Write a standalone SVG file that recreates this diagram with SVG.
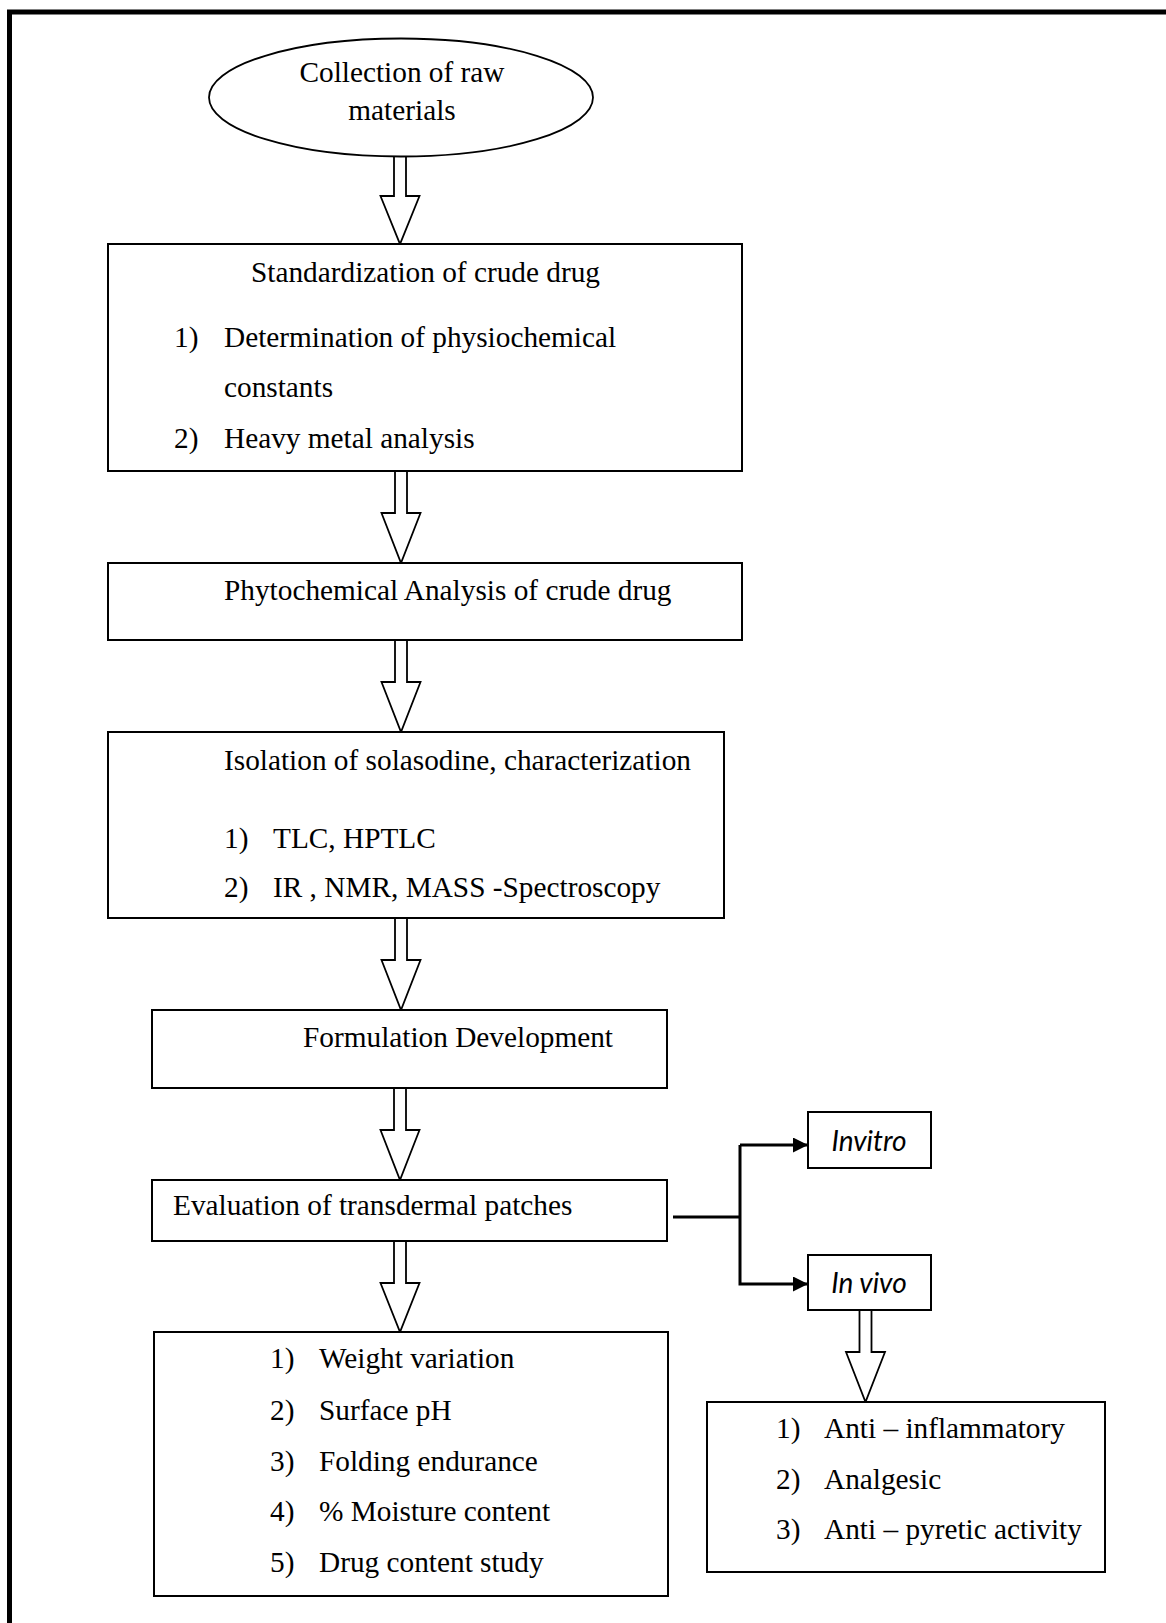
<svg xmlns="http://www.w3.org/2000/svg" width="1166" height="1623" viewBox="0 0 1166 1623">
<style>
.t{font-family:"Liberation Serif","Times New Roman",serif;font-size:29.3px;fill:#000}
.c{font-family:Lato,"Open Sans",sans-serif;font-style:italic;font-size:28px;fill:#000;text-anchor:middle}
.box{fill:#fff;stroke:#000;stroke-width:2}
.blk{fill:#fff;stroke:#000;stroke-width:1.8;stroke-linejoin:miter}
.ln{fill:none;stroke:#000;stroke-width:3}
</style>
<defs>
<marker id="ah" markerUnits="userSpaceOnUse" markerWidth="16" markerHeight="16" refX="15" refY="7.5" orient="auto">
<path d="M0,0 L15,7.5 L0,15 z" fill="#000"/>
</marker>
</defs>
<rect x="0" y="0" width="1166" height="1623" fill="#fff"/>
<path d="M9.5,1623 V12 H1166" fill="none" stroke="#000" stroke-width="5"/>

<g id="connectors">
<polygon class="blk" points="394,156 406,156 406,196 419.5,196 400,244 380.5,196 394,196"/>
<polygon class="blk" points="395,471 407,471 407,513 420.5,513 401,563 381.5,513 395,513"/>
<polygon class="blk" points="395,640 407,640 407,682 420.5,682 401,732 381.5,682 395,682"/>
<polygon class="blk" points="395,918 407,918 407,960 420.5,960 401,1010 381.5,960 395,960"/>
<polygon class="blk" points="394,1088 406,1088 406,1130 419.5,1130 400,1180 380.5,1130 394,1130"/>
<polygon class="blk" points="394,1241 406,1241 406,1283 419.5,1283 400,1332 380.5,1283 394,1283"/>
<polygon class="blk" points="859.5,1310 871.5,1310 871.5,1352 885,1352 865.5,1402 846,1352 859.5,1352"/>
<path class="ln" d="M673,1217 H740"/>
<path class="ln" d="M740,1145 V1284 H808" marker-end="url(#ah)"/>
<path class="ln" d="M740,1145 H808" marker-end="url(#ah)"/>
</g>

<g id="collection">
<ellipse cx="401" cy="97.5" rx="192" ry="59" fill="#fff" stroke="#000" stroke-width="1.8"/>
<text class="t" x="402" y="82" text-anchor="middle">Collection of raw</text>
<text class="t" x="402" y="120" text-anchor="middle">materials</text>
</g>

<g id="standardization">
<rect class="box" x="108" y="244" width="634" height="227"/>
<text class="t" x="251" y="282">Standardization of crude drug</text>
<text class="t" x="174" y="347">1)</text>
<text class="t" x="224" y="347">Determination of physiochemical</text>
<text class="t" x="224" y="397">constants</text>
<text class="t" x="174" y="448">2)</text>
<text class="t" x="224" y="448">Heavy metal analysis</text>
</g>

<g id="phytochemical">
<rect class="box" x="108" y="563" width="634" height="77"/>
<text class="t" x="224" y="600">Phytochemical Analysis of crude drug</text>
</g>

<g id="isolation">
<rect class="box" x="108" y="732" width="616" height="186"/>
<text class="t" x="224" y="770">Isolation of solasodine, characterization</text>
<text class="t" x="224" y="848">1)</text>
<text class="t" x="273" y="848">TLC, HPTLC</text>
<text class="t" x="224" y="897">2)</text>
<text class="t" x="273" y="897">IR , NMR, MASS -Spectroscopy</text>
</g>

<g id="formulation">
<rect class="box" x="152" y="1010" width="515" height="78"/>
<text class="t" x="303" y="1047">Formulation Development</text>
</g>

<g id="evaluation">
<rect class="box" x="152" y="1180" width="515" height="61"/>
<text class="t" x="173" y="1215">Evaluation of transdermal patches</text>
</g>

<g id="invitro">
<rect class="box" x="808" y="1112" width="123" height="56"/>
<text class="c" x="869" y="1151">Invitro</text>
</g>

<g id="invivo">
<rect class="box" x="808" y="1255" width="123" height="55"/>
<text class="c" x="869" y="1293">In vivo</text>
</g>

<g id="tests">
<rect class="box" x="154" y="1332" width="514" height="264"/>
<text class="t" x="270" y="1368">1)</text>
<text class="t" x="319" y="1368">Weight variation</text>
<text class="t" x="270" y="1420">2)</text>
<text class="t" x="319" y="1420">Surface pH</text>
<text class="t" x="270" y="1471">3)</text>
<text class="t" x="319" y="1471">Folding endurance</text>
<text class="t" x="270" y="1521">4)</text>
<text class="t" x="319" y="1521">% Moisture content</text>
<text class="t" x="270" y="1572">5)</text>
<text class="t" x="319" y="1572">Drug content study</text>
</g>

<g id="activities">
<rect class="box" x="707" y="1402" width="398" height="170"/>
<text class="t" x="776" y="1438">1)</text>
<text class="t" x="824" y="1438">Anti – inflammatory</text>
<text class="t" x="776" y="1489">2)</text>
<text class="t" x="824" y="1489">Analgesic</text>
<text class="t" x="776" y="1539">3)</text>
<text class="t" x="824" y="1539">Anti – pyretic activity</text>
</g>
</svg>
